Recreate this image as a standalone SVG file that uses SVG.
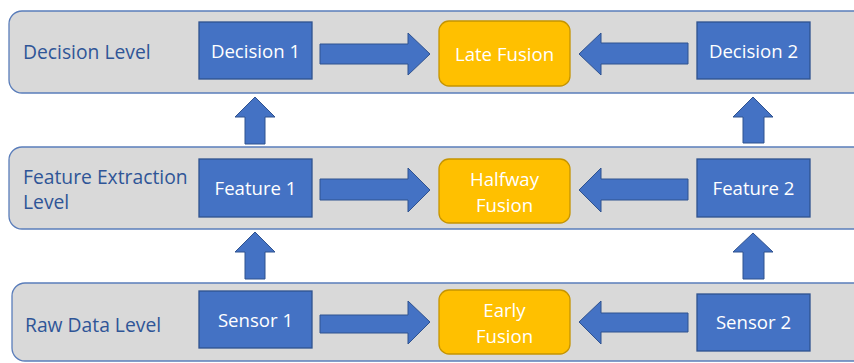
<svg xmlns="http://www.w3.org/2000/svg" width="854" height="363" viewBox="0 0 854 363">
<style>
.band{fill:#D9D9D9;stroke:#5A7DBA;stroke-width:1.3}
.lvl{font-family:"Open Sans","Liberation Sans",Arial,sans-serif;font-size:19.3px;fill:#2F5597}
.box{fill:#4472C4;stroke:#2F528F;stroke-width:1.3}
.fus{fill:#FFC000;stroke:#C59400;stroke-width:1.3}
.t{font-family:"Open Sans","Liberation Sans",Arial,sans-serif;font-size:18.6px;fill:#FFFFFF;text-anchor:middle}
.arr{fill:#4472C4;stroke:#2F528F;stroke-width:1}
</style>
<g id="band-decision"><rect class="band" x="9" y="11" width="870" height="82" rx="13"/><text class="lvl" x="23" y="59">Decision Level</text></g>
<g id="band-feature"><rect class="band" x="9" y="147" width="870" height="82" rx="13"/><text class="lvl" x="23" y="184">Feature Extraction</text><text class="lvl" x="23" y="209">Level</text></g>
<g id="band-raw"><rect class="band" x="12" y="283" width="870" height="78" rx="13"/><text class="lvl" x="25" y="332">Raw Data Level</text></g>
<g id="connectors">
<path class="arr" d="M320,44H408V33L430,54L408,75V64H320Z"/>
<path class="arr" d="M688,43H601V33L579,54L601,75V64H688Z"/>
<path class="arr" d="M320,179H408V168L430,190L408,212V200H320Z"/>
<path class="arr" d="M688,179H601V168L579,190L601,212V200H688Z"/>
<path class="arr" d="M320,315H408V301L430,322L408,344V333H320Z"/>
<path class="arr" d="M688,313H601V301L579,322L601,344V332H688Z"/>
<path class="arr" d="M245,144V117H235L255,97L275,117H265V144Z"/>
<path class="arr" d="M245,279V252H235L255,232L275,252H265V279Z"/>
<path class="arr" d="M743,143V117H733L753,97L773,117H764V143Z"/>
<path class="arr" d="M743,279V252H733L753,233L773,252H764V279Z"/>
</g>
<g id="decision1"><rect class="box" x="199" y="22" width="113" height="57"/><text class="t" x="255.5" y="58">Decision 1</text></g>
<g id="late-fusion"><rect class="fus" x="439" y="21" width="131" height="65" rx="10"/><text class="t" x="504.5" y="61">Late Fusion</text></g>
<g id="decision2"><rect class="box" x="697" y="22" width="113" height="57"/><text class="t" x="753.5" y="58">Decision 2</text></g>
<g id="feature1"><rect class="box" x="199" y="159" width="113" height="58"/><text class="t" x="255.5" y="195">Feature 1</text></g>
<g id="halfway-fusion"><rect class="fus" x="439" y="159" width="131" height="64" rx="10"/><text class="t" x="504.5" y="186">Halfway</text><text class="t" x="504.5" y="212">Fusion</text></g>
<g id="feature2"><rect class="box" x="697" y="159" width="113" height="58"/><text class="t" x="753.5" y="195">Feature 2</text></g>
<g id="sensor1"><rect class="box" x="199" y="291" width="113" height="57"/><text class="t" x="255.5" y="327">Sensor 1</text></g>
<g id="early-fusion"><rect class="fus" x="439" y="290" width="131" height="64" rx="10"/><text class="t" x="504.5" y="317">Early</text><text class="t" x="504.5" y="343">Fusion</text></g>
<g id="sensor2"><rect class="box" x="697" y="294" width="113" height="57"/><text class="t" x="753.5" y="329">Sensor 2</text></g>
</svg>
